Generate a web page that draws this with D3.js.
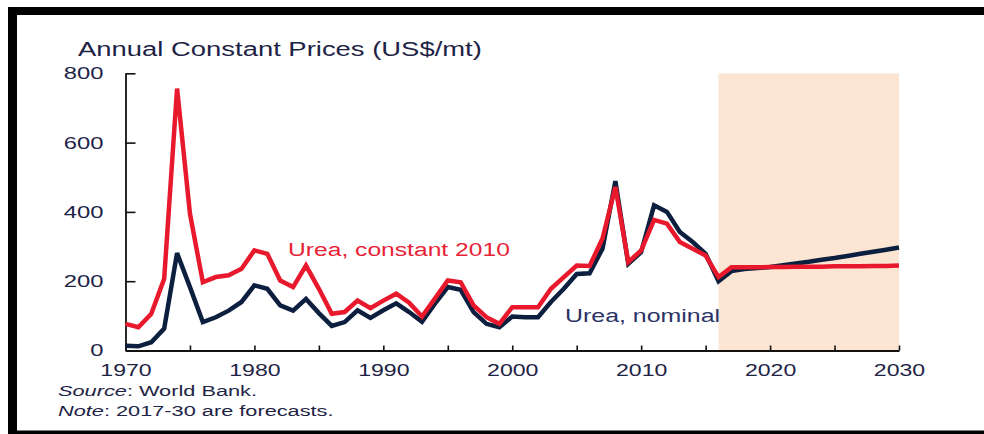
<!DOCTYPE html>
<html>
<head>
<meta charset="utf-8">
<script src="https://cdn.jsdelivr.net/npm/d3@7"></script>
<style>
  html, body { margin: 0; padding: 0; background: #fff; }
  svg { display: block; font-family: "Liberation Sans", Arial, sans-serif; }
</style>
</head>
<body>
<svg id="chart" width="984" height="434"></svg>
<script>
// ---- Data ----
const years = d3.range(1970, 2031); // 1970..2030 categories
const ureaConstant2010 = [
  77, 67, 106, 207, 756, 395, 197, 212, 217, 236,   // 1970-1979
  289, 279, 202, 183, 245, 178, 106, 111, 144, 122, // 1980-1989
  144, 164, 138, 98, 150, 202, 197, 130, 96, 77,    // 1990-1999
  125, 125, 125, 178, 212, 245, 244, 323, 472, 255, // 2000-2009
  289, 377, 366, 313, 294, 274, 212, 240, 240, 240, // 2010-2019
  241, 241, 242, 242, 242, 243, 243, 243, 244, 244, // 2020-2029
  245                                               // 2030
];
const ureaNominal = [
  14, 12, 24, 63, 281, 183, 82, 96, 115, 140,       // 1970-1979
  188, 178, 130, 115, 149, 108, 71, 82, 116, 94,    // 1980-1989
  116, 136, 111, 83, 135, 183, 175, 111, 77, 67,    // 1990-1999
  98, 96, 96, 140, 178, 221, 223, 294, 489, 250,    // 2000-2009
  284, 419, 400, 342, 313, 279, 200, 229, 235, 238, // 2010-2019
  241, 246, 251, 256, 262, 267, 273, 279, 285, 291, // 2020-2029
  297                                               // 2030
];
const yTicks = [0, 200, 400, 600, 800];
const xTicks = d3.range(1970, 2031, 5);
const xTickLabels = [1970, 1980, 1990, 2000, 2010, 2020, 2030];
const forecastStart = 2016, forecastEnd = 2030;
const titleText = "Annual Constant Prices (US$/mt)";
const labelConstant = "Urea, constant 2010";
const labelNominal = "Urea, nominal";

// ---- Layout ----
const svg = d3.select("#chart");
const SX = 1.4; // horizontal text stretch of the reference
const textColor = "#1e2346";
const red = "#e8192c", navy = "#0c1f3f";

const x = d3.scaleLinear().domain([1970, 2030]).range([125.5, 899]);
const y = d3.scaleLinear().domain([0, 800]).range([350.5, 73.3]);

svg.append("rect").attr("width", 984).attr("height", 434).attr("fill", "#fff");

// frame
svg.append("rect").attr("x", 8).attr("y", 7).attr("width", 9).attr("height", 427).attr("fill", "#000");
svg.append("rect").attr("x", 8).attr("y", 7).attr("width", 976).attr("height", 8).attr("fill", "#000");
svg.append("rect").attr("x", 8).attr("y", 430.5).attr("width", 976).attr("height", 3.5).attr("fill", "#000");

function stretchedText(g, txt, tx, ty, size, anchor, color, sx) {
  return g.append("text")
    .attr("transform", `translate(${tx},${ty}) scale(${sx || SX},1)`)
    .attr("text-anchor", anchor || "start")
    .attr("font-size", size)
    .attr("fill", color || textColor)
    .text(txt);
}

// forecast shading
svg.append("rect")
  .attr("x", x(forecastStart)).attr("y", y(800))
  .attr("width", x(forecastEnd) - x(forecastStart))
  .attr("height", y(0) - y(800))
  .attr("fill", "#fce6d3");

// title
stretchedText(svg, titleText, 78, 56, 19.6, "start");

// axes
const yAxis = d3.axisLeft(y).tickValues(yTicks).tickSize(-10).tickSizeOuter(0).tickPadding(22);
const gy = svg.append("g").attr("transform", `translate(${x(1970)},0)`).call(yAxis);
gy.selectAll("text")
  .attr("x", -22 / SX)
  .attr("transform", `scale(${SX},1)`)
  .attr("font-size", 17)
  .attr("font-family", "Liberation Sans, Arial, sans-serif")
  .attr("fill", textColor);

const xAxis = d3.axisBottom(x).tickValues(xTicks).tickSize(-5).tickSizeOuter(0)
  .tickFormat(d => xTickLabels.includes(d) ? String(d) : "");
const gx = svg.append("g").attr("transform", `translate(0,${y(0)})`).call(xAxis);
gx.selectAll("text")
  .attr("y", 0).attr("dy", 0)
  .attr("transform", `translate(0,25.5) scale(${SX},1)`)
  .attr("font-size", 16.5)
  .attr("font-family", "Liberation Sans, Arial, sans-serif")
  .attr("fill", textColor);

[gx, gy].forEach(g => {
  g.selectAll("path.domain").attr("stroke", "#111").attr("stroke-width", 1.8);
  g.selectAll(".tick line").attr("stroke", "#111").attr("stroke-width", 1.6);
});

// lines
const line = d3.line().x((d, i) => x(years[i])).y(d => y(d));
svg.append("path").datum(ureaNominal)
  .attr("d", line).attr("fill", "none")
  .attr("stroke", navy).attr("stroke-width", 4.5).attr("stroke-linejoin", "miter").attr("stroke-miterlimit", 3);
svg.append("path").datum(ureaConstant2010)
  .attr("d", line).attr("fill", "none")
  .attr("stroke", red).attr("stroke-width", 4.5).attr("stroke-linejoin", "miter").attr("stroke-miterlimit", 3);

// series labels
stretchedText(svg, labelConstant, 288, 256, 17.6, "start", "#e82236");
stretchedText(svg, labelNominal, 565, 322, 17.8, "start", "#2c3366");

// source / note
const src = svg.append("text")
  .attr("transform", `translate(58,396) scale(1.45,1)`)
  .attr("font-size", 15).attr("fill", textColor);
src.append("tspan").attr("font-style", "italic").text("Source");
src.append("tspan").text(": World Bank.");
const note = svg.append("text")
  .attr("transform", `translate(58,416) scale(1.45,1)`)
  .attr("font-size", 15).attr("fill", textColor);
note.append("tspan").attr("font-style", "italic").text("Note");
note.append("tspan").text(": 2017-30 are forecasts.");
</script>
</body>
</html>
